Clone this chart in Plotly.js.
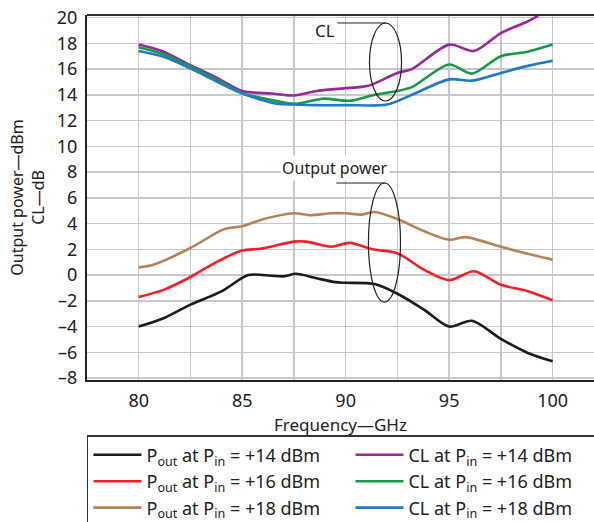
<!DOCTYPE html>
<html><head><meta charset="utf-8">
<script src="https://cdn.plot.ly/plotly-3.0.1.min.js"></script>
<style>html,body{margin:0;padding:0;background:#fff}#chart{width:594px;height:522px}</style>
</head><body><div id="chart"></div>
<script>
// Frequency (GHz) and values
var pout14F = [80, 81.2, 82.5, 84, 85.3, 86.4, 87, 87.6, 88.6, 89.5, 90, 91.4, 92.5, 93.8, 95, 96.1, 97.5, 98.8, 100];
var pout14  = [-4.0, -3.35, -2.3, -1.27, 0, -0.05, -0.1, 0.1, -0.25, -0.55, -0.6, -0.7, -1.45, -2.7, -4.0, -3.55, -4.95, -6.05, -6.7];
var pout16F = [80, 81.2, 82.5, 83.8, 85, 85.9, 87.5, 88.1, 89.3, 90.2, 91.3, 92.5, 93.8, 95, 96.2, 97.5, 98.8, 100];
var pout16  = [-1.7, -1.15, -0.15, 1.05, 1.9, 2.05, 2.6, 2.6, 2.2, 2.5, 2.0, 1.7, 0.4, -0.4, 0.3, -0.75, -1.25, -1.95];
var pout18F = [80, 80.7, 82.5, 84.1, 85, 86.05, 87.5, 88.3, 89.3, 90, 90.8, 91.4, 92.5, 93.8, 95, 95.8, 97.5, 98.8, 100];
var pout18  = [0.6, 0.8, 2.1, 3.55, 3.8, 4.35, 4.8, 4.65, 4.8, 4.8, 4.7, 4.9, 4.35, 3.4, 2.75, 2.95, 2.2, 1.65, 1.2];
var cl14F = [80, 81.2, 82.5, 83.8, 85, 86.4, 87.5, 88.6, 89.9, 91.1, 92.5, 93.2, 95, 96.2, 97.5, 98.8, 99.3];
var cl14  = [17.9, 17.35, 16.3, 15.3, 14.3, 14.1, 13.95, 14.3, 14.5, 14.7, 15.7, 16.0, 17.9, 17.4, 18.8, 19.7, 20.15];
var cl16F = [80, 81.2, 82.5, 83.8, 85, 86.4, 87.5, 88.9, 89.9, 90.3, 91.4, 92.5, 93.2, 95, 96.1, 97.5, 98.8, 100];
var cl16  = [17.7, 17.15, 16.2, 15.15, 14.15, 13.6, 13.3, 13.7, 13.55, 13.55, 14.0, 14.3, 14.6, 16.35, 15.65, 17.0, 17.35, 17.9];
var cl18F = [80, 81.2, 82.5, 83.8, 85, 86.7, 87.5, 88.6, 90, 92.0, 93.2, 95, 96.1, 97.5, 98.8, 100];
var cl18  = [17.4, 16.95, 16.05, 15.0, 14.1, 13.3, 13.25, 13.2, 13.2, 13.25, 14.0, 15.2, 15.1, 15.7, 16.25, 16.65];

var names = {
  p14: 'P<sub>out</sub> at P<sub>in</sub> = +14 dBm',
  p16: 'P<sub>out</sub> at P<sub>in</sub> = +16 dBm',
  p18: 'P<sub>out</sub> at P<sub>in</sub> = +18 dBm',
  c14: 'CL at P<sub>in</sub> = +14 dBm',
  c16: 'CL at P<sub>in</sub> = +16 dBm',
  c18: 'CL at P<sub>in</sub> = +18 dBm'
};
var xTicks = [80, 85, 90, 95, 100];
var yTicks = [-8, -6, -4, -2, 0, 2, 4, 6, 8, 10, 12, 14, 16, 18, 20];

function tr(x, y, name, color) {
  return {x: x, y: y, name: name, type: 'scatter', mode: 'lines',
    line: {color: color, width: 2.6, shape: 'spline', smoothing: 0.8}};
}
var data = [
  tr(pout14F, pout14, names.p14, '#1c1c1c'),
  tr(cl14F, cl14, names.c14, '#962a96'),
  tr(pout16F, pout16, names.p16, '#f2202a'),
  tr(cl16F, cl16, names.c16, '#17994a'),
  tr(pout18F, pout18, names.p18, '#b3845a'),
  tr(cl18F, cl18, names.c18, '#1f7bc9')
];
var FONT = 'Noto Sans, sans-serif';
var layout = {
  width: 594, height: 522,
  margin: {l: 87, r: 0, t: 15, b: 142, autoexpand: false},
  paper_bgcolor: '#fff', plot_bgcolor: '#fff',
  font: {family: FONT, color: '#222', size: 16},
  showlegend: true,
  legend: {orientation: 'h', x: -0.00001, xanchor: 'left', y: -0.151, yanchor: 'top',
    bgcolor: '#fff', bordercolor: '#333', borderwidth: 1.5,
    font: {family: FONT, size: 18, color: '#222'},
    itemwidth: 48, entrywidth: 199, entrywidthmode: 'pixels', tracegroupgap: 0},
  xaxis: {range: [77.5, 102], tickvals: xTicks, ticktext: xTicks.map(String),
    showgrid: true, gridcolor: '#c8c8cc', gridwidth: 1.5,
    minor: {dtick: 2.5, tick0: 77.5, showgrid: true, gridcolor: '#c8c8cc', gridwidth: 1.5},
    showline: true, linecolor: '#222', linewidth: 2, zeroline: false, ticks: '',
    ticklabelstandoff: 3, tickfont: {size: 18, family: FONT, color: '#222'},
    title: {text: 'Frequency—GHz', font: {size: 17, family: FONT, color: '#222'}, standoff: 9}},
  yaxis: {range: [-8.15, 20.2], tickvals: yTicks, ticktext: yTicks.map(function(v){return v < 0 ? '\u2013' + Math.abs(v) : String(v);}),
    showgrid: true, gridcolor: '#c8c8cc', gridwidth: 1.5,
    showline: true, linecolor: '#222', linewidth: 2, zeroline: false, ticks: '',
    ticklabelstandoff: 4, tickfont: {size: 18, family: FONT, color: '#222'},
    title: {text: 'Output power—dBm<br>CL—dB', font: {size: 16, family: FONT, color: '#222'}, standoff: 8}},
  shapes: [
    {type: 'line', xref: 'paper', yref: 'paper', x0: 0, x1: 1, y0: 1, y1: 1, line: {color: '#333', width: 2}},
    {type: 'line', xref: 'x', yref: 'y', x0: 89.6, x1: 91.95, y0: 19.58, y1: 19.58, line: {color: '#222', width: 1}},
    {type: 'circle', xref: 'x', yref: 'y', x0: 91.15, x1: 92.7, y0: 13.52, y1: 19.58, line: {color: '#222', width: 1.2}},
    {type: 'line', xref: 'x', yref: 'y', x0: 89.55, x1: 91.9, y0: 7.15, y1: 7.15, line: {color: '#222', width: 1}},
    {type: 'circle', xref: 'x', yref: 'y', x0: 91.1, x1: 92.65, y0: -2.1, y1: 7.15, line: {color: '#222', width: 1.2}}
  ],
  annotations: [
    {text: 'CL', x: 89.0, y: 19.0, xref: 'x', yref: 'y', showarrow: false, bgcolor: '#fff',
      font: {size: 17, family: FONT, color: '#222'}},
    {text: 'Output power', x: 89.5, y: 8.3, xref: 'x', yref: 'y', showarrow: false, bgcolor: '#fff',
      font: {size: 16, family: FONT, color: '#222'}}
  ]
};
Plotly.newPlot('chart', data, layout, {staticPlot: true, displayModeBar: false});
</script></body></html>
